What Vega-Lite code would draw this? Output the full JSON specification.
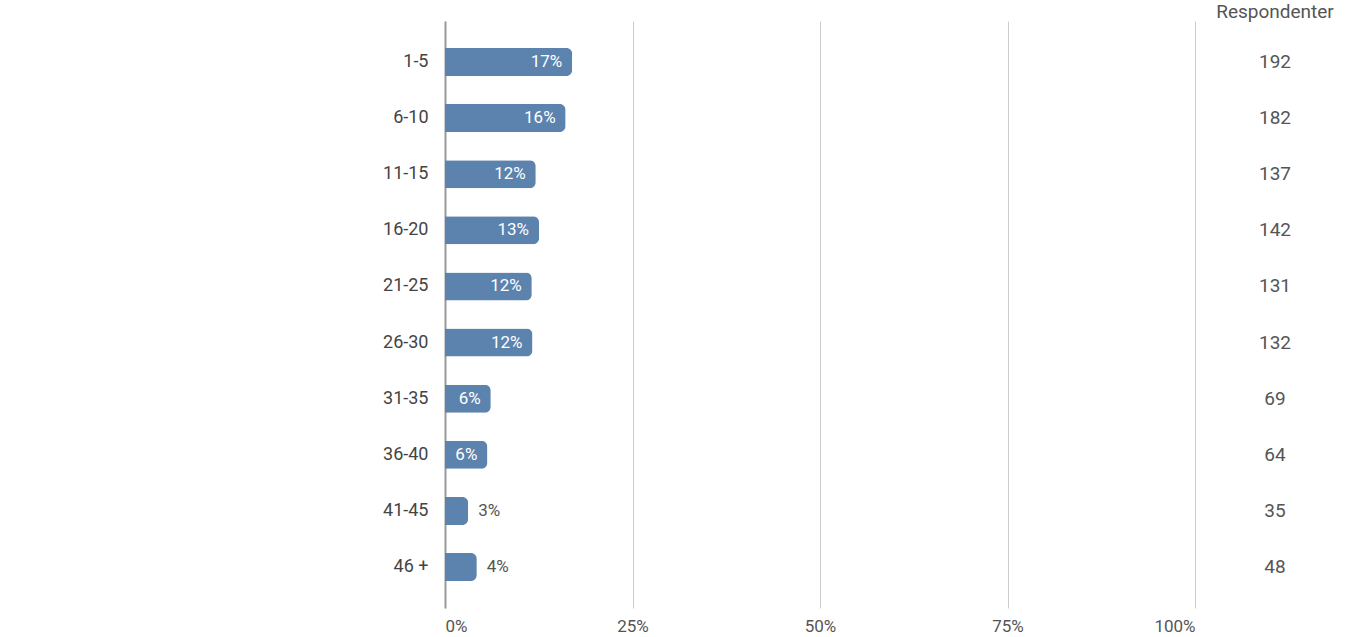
{
  "$schema": "https://vega.github.io/schema/vega-lite/v6.json",
  "padding": {"top": 3, "left": 0, "right": 0, "bottom": 0},
  "background": "white",
  "config": {
    "view": {"stroke": null},
    "font": "Roboto",
    "concat": {"spacing": 0}
  },
  "bounds": "flush",
  "data": {
    "values": [
      {"cat": "1-5", "count": 192, "pct": 0.1696, "label": "17%"},
      {"cat": "6-10", "count": 182, "pct": 0.1608, "label": "16%"},
      {"cat": "11-15", "count": 137, "pct": 0.121, "label": "12%"},
      {"cat": "16-20", "count": 142, "pct": 0.1254, "label": "13%"},
      {"cat": "21-25", "count": 131, "pct": 0.1157, "label": "12%"},
      {"cat": "26-30", "count": 132, "pct": 0.1166, "label": "12%"},
      {"cat": "31-35", "count": 69, "pct": 0.061, "label": "6%"},
      {"cat": "36-40", "count": 64, "pct": 0.0565, "label": "6%"},
      {"cat": "41-45", "count": 35, "pct": 0.0309, "label": "3%"},
      {"cat": "46 +", "count": 48, "pct": 0.0424, "label": "4%"}
    ]
  },
  "hconcat": [
    {
      "width": 750,
      "height": 587,
      "encoding": {
        "y": {
          "field": "cat",
          "type": "nominal",
          "sort": null,
          "scale": {"type": "band", "paddingInner": 0.5, "paddingOuter": 0.48},
          "axis": {
            "title": null,
            "ticks": false,
            "labelPadding": 17,
            "labelFontSize": 18,
            "labelColor": "#444444",
            "domainColor": "#9a9a9a",
            "domainWidth": 2,
            "minExtent": 445,
            "maxExtent": 445
          }
        },
        "x": {
          "field": "pct",
          "type": "quantitative",
          "scale": {"domain": [0, 1]},
          "axis": {
            "title": null,
            "values": [0, 0.25, 0.5, 0.75, 1],
            "format": ".0%",
            "domain": false,
            "ticks": false,
            "grid": true,
            "gridColor": "#cccccc",
            "gridWidth": 1,
            "labelFontSize": 17,
            "labelColor": "#555555",
            "labelPadding": 10
          }
        }
      },
      "layer": [
        {
          "mark": {"type": "bar", "color": "#5b83ae", "cornerRadiusEnd": 6}
        },
        {
          "transform": [{"filter": "datum.pct >= 0.05"}],
          "mark": {"type": "text", "align": "right", "dx": -10, "color": "white", "fontSize": 17, "baseline": "middle"},
          "encoding": {"text": {"field": "label"}}
        },
        {
          "transform": [{"filter": "datum.pct < 0.05"}],
          "mark": {"type": "text", "align": "left", "dx": 10, "color": "#555555", "fontSize": 17, "baseline": "middle"},
          "encoding": {"text": {"field": "label"}}
        }
      ]
    },
    {
      "width": 160,
      "height": 587,
      "title": {"text": "Respondenter", "fontSize": 19, "fontWeight": "normal", "color": "#555555", "anchor": "middle", "offset": -16, "baseline": "alphabetic"},
      "mark": {"type": "text", "fontSize": 19, "color": "#555555", "baseline": "middle"},
      "encoding": {
        "y": {
          "field": "cat",
          "type": "nominal",
          "sort": null,
          "scale": {"type": "band", "paddingInner": 0.5, "paddingOuter": 0.48},
          "axis": null
        },
        "text": {"field": "count"}
      }
    }
  ]
}
